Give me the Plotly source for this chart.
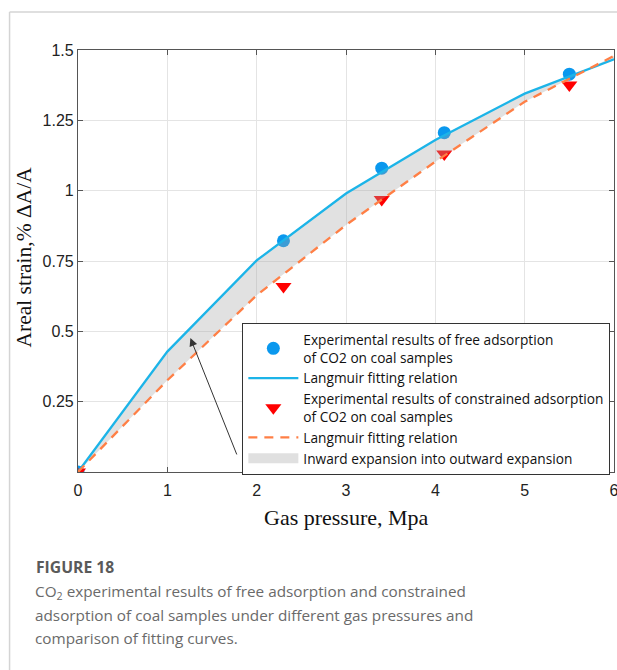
import plotly.graph_objects as go

# ---------------- data ----------------
pressure_exp = [0, 2.3, 3.4, 4.1, 5.5]
strain_free = [0, 0.822, 1.08, 1.206, 1.414]
strain_constrained = [0, 0.659, 0.969, 1.13, 1.376]

pressure_fit = [0, 1, 2, 3, 4, 5, 6]
fit_free = [0, 0.428, 0.752, 0.99, 1.18, 1.345, 1.467]
fit_constrained = [0, 0.326, 0.628, 0.878, 1.103, 1.316, 1.479]

x_ticks = [0, 1, 2, 3, 4, 5, 6]
x_tick_labels = ["0", "1", "2", "3", "4", "5", "6"]
y_ticks = [0.25, 0.5, 0.75, 1.0, 1.25, 1.5]
y_tick_labels = ["0.25", "0.5", "0.75", "1", "1.25", "1.5"]

name_free = "Experimental results of free adsorption<br>of CO2 on coal samples"
name_fit = "Langmuir fitting relation"
name_cons = "Experimental results of constrained adsorption<br>of CO2 on coal samples"
name_fill = "Inward expansion into outward expansion"

caption_title = "FIGURE 18"
caption_lines = [
    "CO<sub>2</sub> experimental results of free adsorption and constrained",
    "adsorption of coal samples under different gas pressures and",
    "comparison of fitting curves.",
]

# ---------------- layout geometry (window pixels) ----------------
W, H = 617, 670
L, R, T, B = 77.5, 614, 50, 472   # plot area
PW, PH = R - L, B - T


def px2x(px):
    return (px - L) / PW


def px2y(py):
    return (B - py) / PH


SANS = "Liberation Sans, Arial, sans-serif"
SERIF = "Liberation Serif, Times New Roman, serif"
CAP = "Open Sans"
LEG = "Open Sans"

fig = go.Figure()

# markers (drawn below the translucent fill)
fig.add_trace(go.Scatter(
    x=pressure_exp, y=strain_free, mode="markers", name=name_free,
    marker=dict(symbol="circle", size=13, color="#0a98ee"),
    legendrank=1))
fig.add_trace(go.Scatter(
    x=pressure_exp, y=strain_constrained, mode="markers", name=name_cons,
    marker=dict(symbol="triangle-down", size=14, color="#ff0000"),
    legendrank=3))

# fill between fitted curves
fig.add_trace(go.Scatter(
    x=pressure_fit, y=fit_free, mode="lines", line=dict(width=0),
    showlegend=False, hoverinfo="skip"))
fig.add_trace(go.Scatter(
    x=pressure_fit, y=fit_constrained, mode="lines", line=dict(width=0),
    fill="tonexty", fillcolor="rgba(165,165,165,0.33)", showlegend=False,
    hoverinfo="skip"))

# fitted lines
fig.add_trace(go.Scatter(
    x=pressure_fit, y=fit_free, mode="lines", name=name_fit,
    line=dict(color="#1cb4e8", width=2.3), legendrank=2))
fig.add_trace(go.Scatter(
    x=pressure_fit, y=fit_constrained, mode="lines", name=name_fit,
    line=dict(color="#ff7f45", width=2.3, dash="9px,7px"), legendrank=4))

# legend entry for the shaded band
fig.add_trace(go.Scatter(
    x=[None], y=[None], mode="lines", name=name_fill,
    line=dict(color="#e0e0e0", width=13), legendrank=5))

axis_common = dict(
    showgrid=True, gridcolor="#e4e4e4", gridwidth=1,
    showline=True, linecolor="#555555", linewidth=1.2, mirror="ticks",
    ticks="inside", ticklen=5, tickcolor="#555555",
    tickfont=dict(family=SANS, size=16, color="#222222"),
    zeroline=False, ticklabeloverflow="allow",
)

fig.update_xaxes(range=[0, 6], tickvals=x_ticks, ticktext=x_tick_labels,
                 ticklabelstandoff=4, **axis_common)
fig.update_yaxes(range=[0, 1.5], tickvals=y_ticks, ticktext=y_tick_labels, **axis_common)

annotations = [
    # axis titles
    dict(text="Gas pressure, Mpa", x=0.5, y=px2y(517), xref="paper", yref="paper",
         xanchor="center", yanchor="middle", showarrow=False,
         font=dict(family=SERIF, size=22, color="#111111")),
    dict(text="Areal strain,% \u0394A/A", x=px2x(23), y=px2y(257), xref="paper", yref="paper",
         textangle=-90, xanchor="center", yanchor="middle", showarrow=False,
         font=dict(family=SERIF, size=21.5, color="#111111")),
    # arrow
    dict(x=1.258, y=0.476, ax=1.784, ay=0.057, xref="x", yref="y", axref="x", ayref="y",
         showarrow=True, arrowhead=2, arrowsize=1.6, arrowwidth=1, arrowcolor="#333333",
         text=""),
    # caption title
    dict(text=caption_title, x=px2x(33), y=px2y(567), xref="paper", yref="paper",
         xanchor="left", yanchor="middle", showarrow=False,
         font=dict(family=CAP, size=15.7, color="#5a5a5a", weight="bold")),
]
for i, line in enumerate(caption_lines):
    annotations.append(dict(
        text=line, x=px2x(32), y=px2y(592 + 23.2 * i), xref="paper", yref="paper",
        xanchor="left", yanchor="middle", align="left", showarrow=False,
        font=dict(family=CAP, size=15.3, color="#6a6a6a")))

shapes = [
    dict(type="line", xref="paper", yref="paper", x0=px2x(9), x1=px2x(640),
         y0=px2y(12), y1=px2y(12), line=dict(color="#d4d4d4", width=1.5)),
    dict(type="line", xref="paper", yref="paper", x0=px2x(9), x1=px2x(9),
         y0=px2y(12), y1=px2y(700), line=dict(color="#d4d4d4", width=1.5)),
]

fig.update_layout(
    width=W, height=H,
    margin=dict(l=L, r=W - R, t=T, b=H - B, autoexpand=False),
    paper_bgcolor="white", plot_bgcolor="white",
    showlegend=True,
    legend=dict(
        x=px2x(242), y=px2y(323), xanchor="left", yanchor="top",
        bgcolor="white", bordercolor="#333333", borderwidth=1,
        font=dict(family=LEG, size=13.7, color="#111111"),
        itemwidth=50, tracegroupgap=0, valign="middle",
        traceorder="normal",
    ),
    annotations=annotations,
    shapes=shapes,
)

# remove the default page margin so the figure fills the window exactly
fig.write_html("out.html",
               config={"displayModeBar": False},
               post_script="document.body.style.margin='0px';document.body.style.overflow='hidden';")
